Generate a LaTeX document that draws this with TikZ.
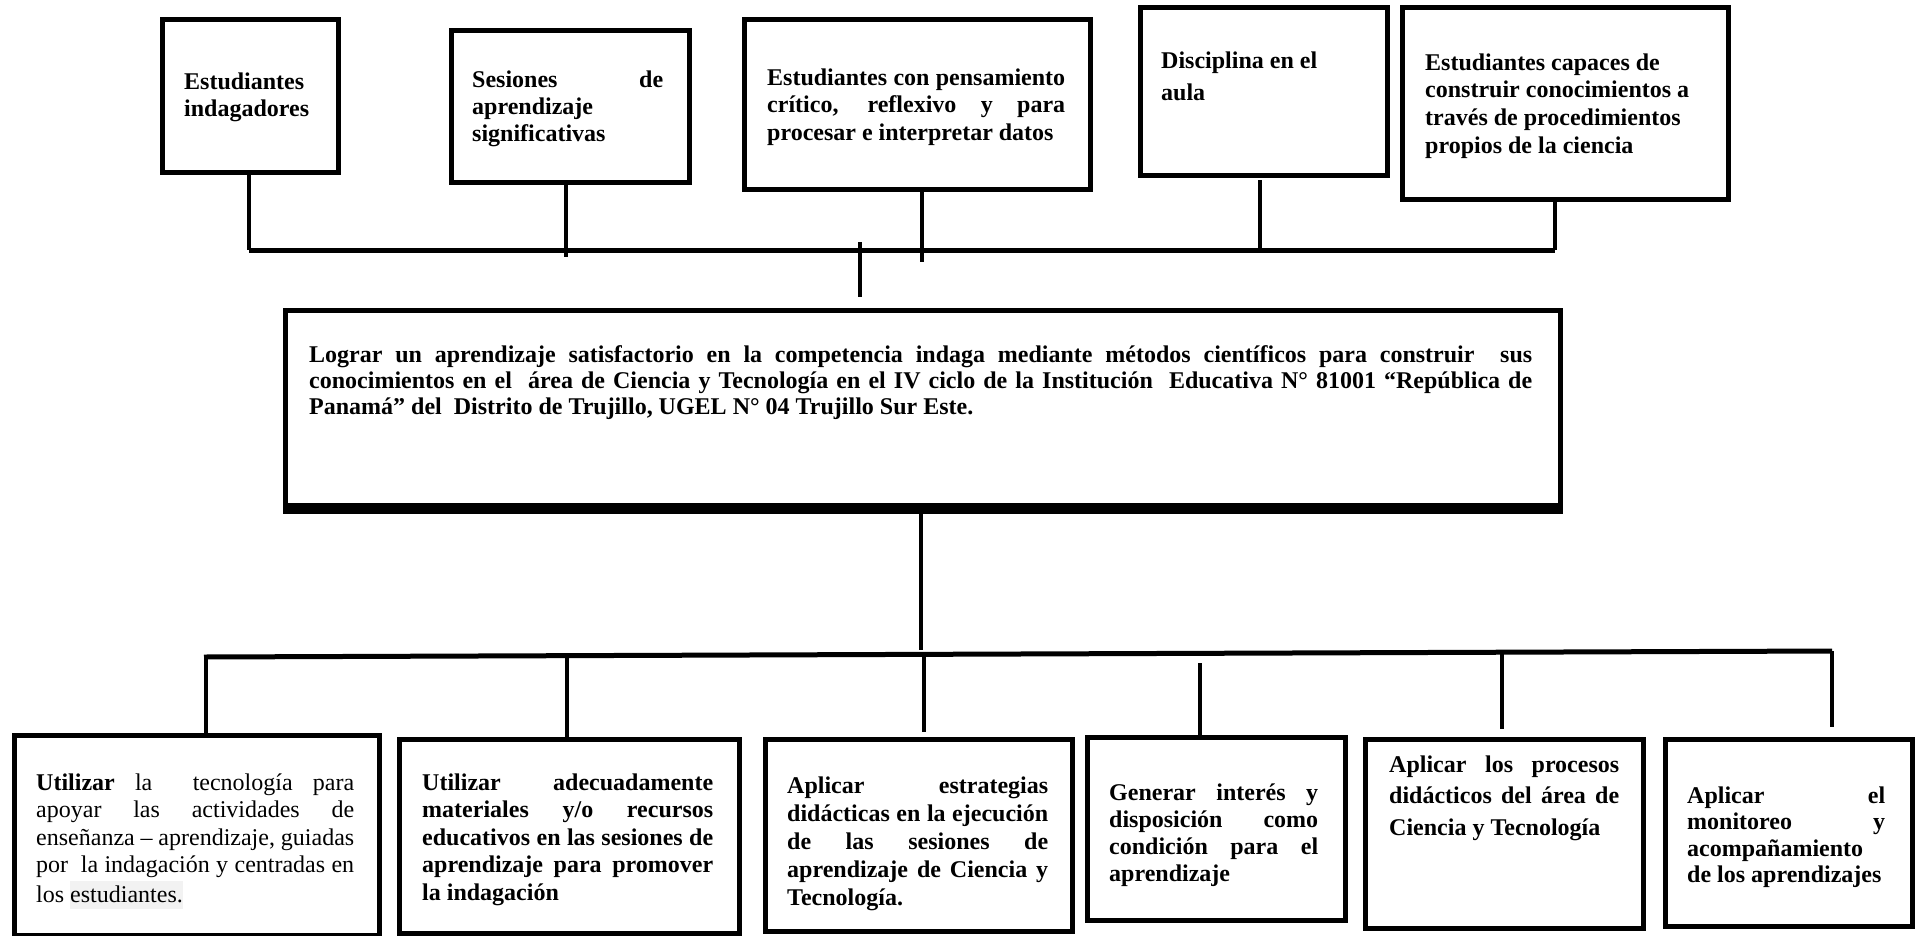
\documentclass[tikz,border=0pt]{standalone}
\usepackage{fontspec}
\setmainfont{Liberation Serif}
\newcommand{\jl}[2]{\makebox[#1pt][s]{#2}}
\newcommand{\blk}[2]{{\fontsize{24}{#1}\selectfont\begin{tabular}[t]{@{}l@{}}#2\end{tabular}}}
\newcommand{\hl}[1]{{\setlength{\fboxsep}{0pt}\colorbox{black!5}{\rule[-6pt]{0pt}{28pt}#1}}}
\begin{document}
\begin{tikzpicture}[x=1pt,y=-1pt,
  box/.style={draw, line width=5pt, inner sep=0pt, anchor=north west},
  conn/.style={line width=4pt},
  bar/.style={line width=5pt},
  txt/.style={inner sep=0pt, anchor=base west, font=\bfseries},
  txtr/.style={inner sep=0pt, anchor=base west}]
\useasboundingbox[fill=white] (0,0) rectangle (1917,935);

% top boxes
\node[box, minimum width=176, minimum height=153] (b1) at (160,17) {};
\node[box, minimum width=238, minimum height=152] (b2) at (449,28) {};
\node[box, minimum width=346, minimum height=170] (b3) at (742,17) {};
\node[box, minimum width=247, minimum height=168] (b4) at (1138,5) {};
\node[box, minimum width=326, minimum height=192] (b5) at (1400,5) {};

\node[txt] (b1t) at (184,89) {\blk{27.5}{Estudiantes\\indagadores}};
\node[txt] (b2t) at (472,87) {\blk{27}{\jl{191}{Sesiones de}\\aprendizaje\\significativas}};
\node[txt] (b3t) at (767,85) {\blk{27.5}{\jl{298}{Estudiantes con pensamiento}\\\jl{298}{crítico, reflexivo y para}\\procesar e interpretar datos}};
\node[txt] (b4t) at (1161,68) {\blk{32}{Disciplina en el\\aula}};
\node[txt] (b5t) at (1425,70) {\blk{27.7}{Estudiantes capaces de\\construir conocimientos a\\través de procedimientos\\propios de la ciencia}};

% top connectors
\coordinate (tl) at (249,250);
\coordinate (tr) at (1555,250);
\coordinate (v2e) at (566,257);
\coordinate (v3s) at (922,187);
\coordinate (v3e) at (922,262);
\coordinate (v4s) at (1260,180);
\coordinate (v5s) at (1555,202);
\coordinate (st1) at (860,242);
\coordinate (st2) at (860,297);
\draw[bar] (tl) -- (tr);
\draw[conn] (b1.south -| tl) -- (tl);
\draw[conn] (b2.south -| v2e) -- (v2e);
\draw[conn] (v3s) -- (v3e);
\draw[conn] (v4s) -- (v4s |- tl);
\draw[conn] (v5s) -- (tr);
\draw[conn] (st1) -- (st2);

% central box
\node[box, minimum width=1275, minimum height=195] (c) at (283,308) {};
\draw[line width=8pt] ([yshift=-1.5pt]c.south west) -- ([yshift=-1.5pt]c.south east);
\node[txt] (ct) at (309,362) {\blk{26}{\jl{1223}{Lograr un aprendizaje satisfactorio en la competencia indaga mediante métodos científicos para construir \ sus}\\\jl{1223}{conocimientos en el \ área de Ciencia y Tecnología en el IV ciclo de la Institución \ Educativa N° 81001 “República de}\\Panamá” del \ Distrito de Trujillo, UGEL N° 04 Trujillo Sur Este.}};

% bottom connectors
\coordinate (cd) at (921,650);
\coordinate (bl) at (204,657);
\coordinate (br) at (1832,651);
\coordinate (bv1) at (206,657);
\coordinate (bv2) at (567,657);
\coordinate (bv3) at (924,655);
\coordinate (bv3e) at (924,732);
\coordinate (bv4) at (1200,663);
\coordinate (bv5) at (1502,653);
\coordinate (bv5e) at (1502,729);
\coordinate (bv6e) at (1832,727);
\draw[conn] (c.south -| cd) -- (cd);
\draw[bar] (bl) -- (br);

% bottom boxes
\node[box, minimum width=365, minimum height=200] (bb1) at (12,733) {};
\node[box, minimum width=340, minimum height=194] (bb2) at (397,737) {};
\node[box, minimum width=307, minimum height=192] (bb3) at (763,737) {};
\node[box, minimum width=258, minimum height=183] (bb4) at (1085,735) {};
\node[box, minimum width=278, minimum height=189] (bb5) at (1363,737) {};
\node[box, minimum width=247, minimum height=187] (bb6) at (1663,737) {};

\draw[conn] (bv1) -- (bb1.north -| bv1);
\draw[conn] (bv2) -- (bb2.north -| bv2);
\draw[conn] (bv3) -- (bv3e);
\draw[conn] (bv4) -- (bb4.north -| bv4);
\draw[conn] (bv5) -- (bv5e);
\draw[conn] (br) -- (bv6e);

\node[txtr] (bb1t) at (36,790) {\blk{27.5}{\jl{318}{\textbf{Utilizar} la \ tecnología para}\\\jl{318}{apoyar las actividades de}\\\jl{318}{enseñanza – aprendizaje, guiadas}\\\jl{318}{por \ la indagación y centradas en}\\los \hl{estudiantes.}}};
\node[txt] (bb2t) at (422,790) {\blk{27.5}{\jl{291}{Utilizar adecuadamente}\\\jl{291}{materiales y/o recursos}\\\jl{291}{educativos en las sesiones de}\\\jl{291}{aprendizaje para promover}\\la indagación}};
\node[txt] (bb3t) at (787,793) {\blk{28}{\jl{261}{Aplicar estrategias}\\\jl{261}{didácticas en la ejecución}\\\jl{261}{de las sesiones de}\\\jl{261}{aprendizaje de Ciencia y}\\Tecnología.}};
\node[txt] (bb4t) at (1109,800) {\blk{27}{\jl{209}{Generar interés y}\\\jl{209}{disposición como}\\\jl{209}{condición para el}\\aprendizaje}};
\node[txt] (bb5t) at (1389,772) {\blk{31.5}{\jl{230}{Aplicar los procesos}\\\jl{230}{didácticos del área de}\\Ciencia y Tecnología}};
\node[txt] (bb6t) at (1687,803) {\blk{26.5}{\jl{198}{Aplicar el}\\\jl{198}{monitoreo y}\\acompañamiento\\de los aprendizajes}};
\end{tikzpicture}
\end{document}
